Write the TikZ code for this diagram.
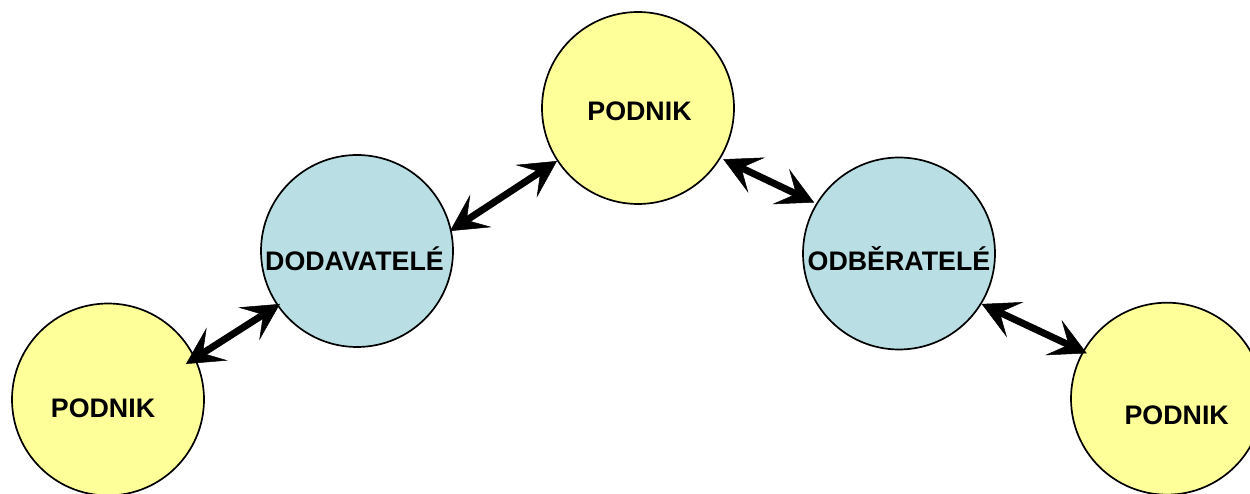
\documentclass[tikz,border=0pt]{standalone}
\usepackage{fontspec}
\setmainfont{Liberation Sans}
\usetikzlibrary{arrows.meta}
\definecolor{podyel}{RGB}{255,255,153}
\definecolor{supblue}{RGB}{185,223,228}
\begin{document}
\begin{tikzpicture}[x=1pt,y=1pt,
  ball/.style={circle, draw=black, line width=1.7pt, minimum size=192pt, inner sep=0pt},
  yel/.style={ball, fill=podyel},
  blu/.style={ball, fill=supblue},
  txt/.style={font=\fontsize{26.8}{30}\selectfont\bfseries, text height=19pt, text depth=0pt, inner sep=0pt},
  link/.style={line width=7pt, {Stealth[length=37pt,width=39pt,inset=17pt,line width=0.5pt]}-{Stealth[length=37pt,width=39pt,inset=17pt,line width=0.5pt]}}
]
\useasboundingbox (0,0) rectangle (1250,493);
\node[yel] (top) at (638,385) {};
\node[blu] (dod) at (357,242) {};
\node[blu] (odb) at (899,239.5) {};
\node[yel] (lp) at (108,93.5) {};
\node[yel] (rp) at (1167,94.3) {};
\node[txt] (ttop) at ([shift={(1.5,-3)}]top.center) {PODNIK};
\node[txt] (tdod) at ([shift={(-2.5,-10)}]dod.center) {DODAVATELÉ};
\node[txt] (todb) at ([shift={(0,-7.5)}]odb.center) {ODBĚRATELÉ};
\node[txt] (tlp) at ([shift={(-5,-8)}]lp.center) {PODNIK};
\node[txt] (trp) at ([shift={(9.7,-15.8)}]rp.center) {PODNIK};
\draw[link] ([shift={(24.5:85.7pt)}]lp.center) -- ([shift={(214.5:93.5pt)}]dod.center);
\draw[link] ([shift={(12.1:95.1pt)}]dod.center) -- ([shift={(213.2:96.8pt)}]top.center);
\draw[link] ([shift={(-31:99.5pt)}]top.center) -- ([shift={(149:99pt)}]odb.center);
\draw[link] ([shift={(-31.4:96.9pt)}]odb.center) -- ([shift={(150.5:92.2pt)}]rp.center);
\end{tikzpicture}
\end{document}
